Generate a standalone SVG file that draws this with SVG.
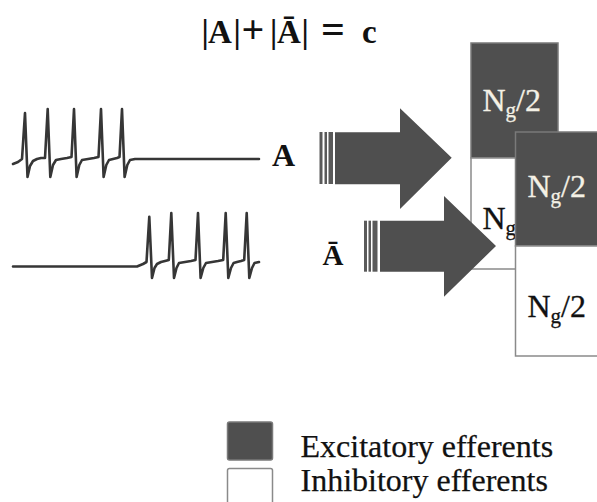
<svg xmlns="http://www.w3.org/2000/svg" width="597" height="502" viewBox="0 0 597 502">
<style>
.serif{font-family:"Liberation Serif","Times New Roman",serif}
.math{font-family:"Liberation Serif","Times New Roman",serif;font-weight:bold;fill:#111}
.trace{fill:none;stroke:#363636;stroke-width:2.6;stroke-linejoin:round;stroke-linecap:round}
.exc{fill:#4f4f4f;stroke:#7a7a7a;stroke-width:1.5}
.inh{fill:#ffffff;stroke:#8a8a8a;stroke-width:1.5}
.arrow{fill:#4f4f4f}
.bar{fill:#5a5a5a}
.lblW{font-family:"Liberation Serif","Times New Roman",serif;font-size:32px;fill:#f4f1e6;stroke:#f4f1e6;stroke-width:0.3}
.lblB{font-family:"Liberation Serif","Times New Roman",serif;font-size:32px;fill:#111;stroke:#111;stroke-width:0.3}
.legend{font-family:"Liberation Serif","Times New Roman",serif;font-size:32px;fill:#111;stroke:#111;stroke-width:0.25}
</style>
<rect width="597" height="502" fill="#ffffff"/>

<g id="formula">
<text class="math" font-size="33" y="42.5"><tspan x="201.5">|</tspan><tspan x="208">A</tspan><tspan x="233.5">|</tspan><tspan x="241.5" font-size="40">+</tspan><tspan x="270">|</tspan><tspan x="277">Ā</tspan><tspan x="301.5">|</tspan><tspan x="321" font-size="42">=</tspan><tspan x="362">c</tspan></text>
</g>

<g id="trace-A">
<path class="trace" d="M13,164 L18,162 L22,159 L25,113 L27.5,177 L30,166 L33,161 L37,159 L41,158 L45,158 L47.7,109 L50.3,177 L53,165 L56,160 L61,159 L67,158 L71.5,157 L74,109 L76.6,177 L79.3,165 L82,160 L88,159 L94,158 L98.5,157 L101,109 L103.6,177 L106.3,165 L109,160 L113,159 L117,158 L119.5,157 L122,109 L124.6,177 L127.3,165 L130,160 L135,159 L259,159"/>
</g>
<g id="trace-Abar">
<path class="trace" d="M13,266.5 L137,266.5 L143,264 L146.5,262 L149.3,216.7 L152,278 L154.5,268 L157,264 L161,262 L165,261 L168.8,260 L171.3,213 L174,278 L176.5,268 L179,263 L185,262 L191,261 L195.5,260 L198,213 L200.6,278 L203.3,268 L206,263 L212,262 L218,261 L223.2,260 L225.7,213 L228.3,278 L231,268 L233.6,263 L237,262 L241,261 L244.2,260 L246.7,213 L249.3,278 L252,268 L254.5,263 L259,262"/>
</g>

<g id="label-A"><text class="math" font-size="32" x="272" y="166">A</text></g>
<g id="label-Abar"><text class="math" font-size="29" x="322.5" y="265">Ā</text></g>

<g id="box1">
<rect class="exc" x="471" y="43" width="87" height="115"/>
<rect class="inh" x="471" y="158" width="87" height="111"/>
<text class="lblW" x="482.5" y="110.5">N<tspan font-size="21" dy="6">g</tspan><tspan dy="-6">/2</tspan></text>
<text class="lblB" x="482.5" y="228.5">N<tspan font-size="21" dy="6">g</tspan><tspan dy="-6">/2</tspan></text>
</g>

<g id="connectors">
<g id="arrow-A">
<rect class="bar" x="319.5" y="132" width="3" height="52"/>
<rect class="bar" x="324.5" y="132" width="2.5" height="52"/>
<rect class="bar" x="328.5" y="132" width="4.5" height="52"/>
<polygon class="arrow" points="335,132.3 400,132.3 400,108.3 451.7,157.7 400,209 400,184.3 335,184.3"/>
</g>
<g id="arrow-Abar">
<rect class="bar" x="364" y="220.7" width="3" height="51"/>
<rect class="bar" x="368.5" y="220.7" width="2.5" height="51"/>
<rect class="bar" x="372.5" y="220.7" width="5" height="51"/>
<polygon class="arrow" points="380,220.7 444,220.7 444,196 496,246 444,296.7 444,271.7 380,271.7"/>
</g>
</g>

<g id="box2">
<rect class="exc" x="515.5" y="132" width="95" height="114"/>
<rect class="inh" x="515.5" y="246" width="95" height="110"/>
<text class="lblW" x="527.5" y="196.7">N<tspan font-size="21" dy="6">g</tspan><tspan dy="-6">/2</tspan></text>
<text class="lblB" x="527.5" y="316.7">N<tspan font-size="21" dy="6">g</tspan><tspan dy="-6">/2</tspan></text>
</g>

<g id="legend">
<rect x="227.5" y="422" width="45" height="38" rx="2" fill="#4f4f4f" stroke="#7a7a7a" stroke-width="1.5"/>
<rect x="227.5" y="468.5" width="45" height="45" rx="2" fill="#ffffff" stroke="#8a8a8a" stroke-width="1.5"/>
<text class="legend" x="300.5" y="456.7">Excitatory efferents</text>
<text class="legend" x="300.5" y="490.5">Inhibitory efferents</text>
</g>
</svg>
